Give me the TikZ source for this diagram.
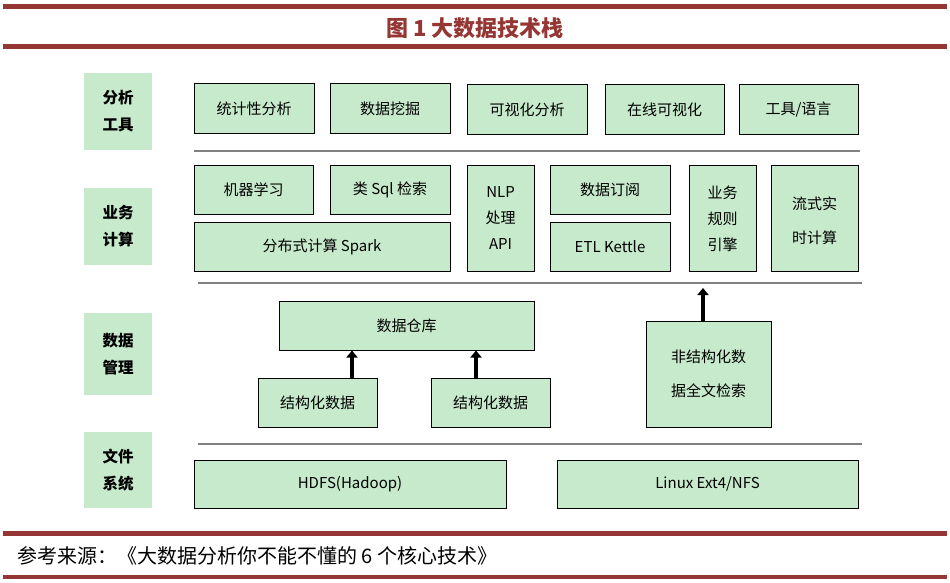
\documentclass[tikz,border=0pt]{standalone}
\usepackage{fontspec}
\setmainfont{Noto Sans CJK SC}
\usetikzlibrary{arrows.meta}
\definecolor{bx}{HTML}{C6EACB}
\definecolor{rd}{HTML}{943634}
\definecolor{gl}{HTML}{808080}
\begin{document}
\begin{tikzpicture}[x=1pt,y=-1pt,
 box/.style={draw=black,line width=1pt,fill=bx,font=\fontsize{15}{18}\selectfont,align=center,inner sep=0pt},
 lab/.style={fill=bx,font=\fontsize{15.5}{27}\selectfont\bfseries,align=center,inner sep=0pt},
 sep/.style={gl,line width=2pt},
 red/.style={rd,line width=5pt},
 up/.style={-{Triangle[length=7pt,width=11pt]},line width=3.5pt}]
\useasboundingbox (0,0) rectangle (950,583);
\draw[red] (3,6.5) -- (947,6.5);
\draw[red] (3,46.5) -- (947,46.5);
\node[text=rd,font=\fontsize{22}{26}\selectfont\bfseries] (title) at (475,28) {图 1 大数据技术栈};
\node[lab,minimum width=68,minimum height=77] (l1) at (118,111.5) {分析\\工具};
\node[lab,minimum width=68,minimum height=77] (l2) at (118,226.5) {业务\\计算};
\node[lab,minimum width=68,minimum height=82] (l3) at (118,354) {数据\\管理};
\node[lab,minimum width=68,minimum height=76] (l4) at (118,470) {文件\\系统};
\node[box,minimum width=120,minimum height=50] (a1) at (254,109) {统计性分析};
\node[box,minimum width=120,minimum height=50] (a2) at (390,109) {数据挖掘};
\node[box,minimum width=120,minimum height=50] (a3) at (527,110) {可视化分析};
\node[box,minimum width=119,minimum height=50] (a4) at (664.5,110) {在线可视化};
\node[box,minimum width=119,minimum height=50] (a5) at (798.5,110) {工具/语言};
\draw[sep] (194,151) -- (860,151);
\node[box,minimum width=119,minimum height=49] (b1) at (253.5,189.5) {机器学习};
\node[box,minimum width=120,minimum height=49] (b2) at (390,189.5) {类 Sql 检索};
\node[box,minimum width=256,minimum height=49] (b3) at (322,246.5) {分布式计算 Spark};
\node[box,minimum width=67,minimum height=106,font=\fontsize{15}{26}\selectfont] (b4) at (500.5,218) {NLP\\处理\\API};
\node[box,minimum width=120,minimum height=49] (b5) at (610,189.5) {数据订阅};
\node[box,minimum width=120,minimum height=49] (b6) at (610,246.5) {ETL Kettle};
\node[box,minimum width=67,minimum height=106,font=\fontsize{15}{26}\selectfont,anchor=north] (b7) at (722.5,165) {\rule{0pt}{14pt}业务\\规则\\引擎};
\node[box,minimum width=87,minimum height=106,font=\fontsize{15}{34}\selectfont,anchor=north] (b8) at (814.5,165) {\rule{0pt}{18pt}流式实\\时计算};
\draw[sep] (198,283) -- (862,283);
\node[box,minimum width=255,minimum height=49] (c1) at (406.5,325.5) {数据仓库};
\node[box,minimum width=119,minimum height=49] (c2) at (317.5,402.5) {结构化数据};
\node[box,minimum width=119,minimum height=49] (c3) at (490.5,402.5) {结构化数据};
\node[box,minimum width=125,minimum height=106,font=\fontsize{15}{34}\selectfont] (c4) at (708.5,374) {非结构化数\\据全文检索};
\draw[up] (c2.north -| 352,0) -- (c1.south -| 352,0);
\draw[up] (c3.north -| 476,0) -- (c1.south -| 476,0);
\coordinate (t4) at (703,288);
\draw[up] (c4.north -| t4) -- (t4);
\draw[sep] (198,444) -- (862,444);
\node[box,minimum width=312,minimum height=48] (d1) at (350,484) {HDFS(Hadoop)};
\node[box,minimum width=301,minimum height=48] (d2) at (707.5,484) {Linux Ext4/NFS};
\draw[red] (3,533.5) -- (947,533.5);
\node[anchor=west,font=\fontsize{20}{22}\selectfont] (src) at (14,556) {参考来源：《大数据分析你不能不懂的 6 个核心技术》};
\draw[rd,line width=4pt] (3,577) -- (947,577);
\end{tikzpicture}
\end{document}
